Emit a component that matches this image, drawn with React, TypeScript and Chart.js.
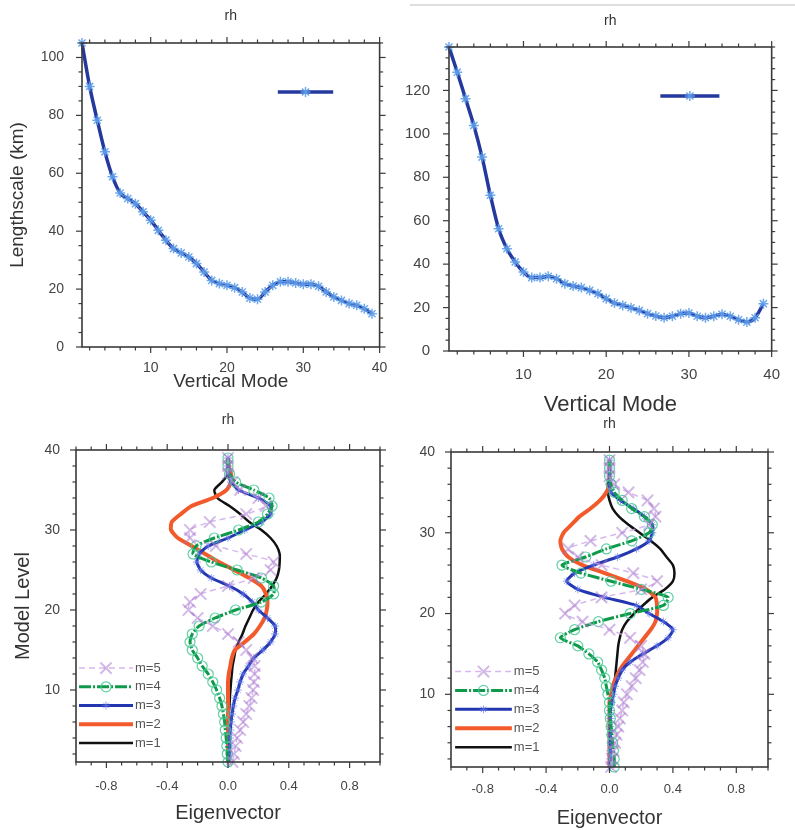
import React, { useEffect, useRef } from "react";
import { Chart, registerables } from "chart.js";

Chart.register(...registerables);

const FONT = "'Liberation Sans', Arial, Helvetica, sans-serif";

// ---------- data ----------
const MODES = [1, 2, 3, 4, 5, 6, 7, 8, 9, 10, 11, 12, 13, 14, 15, 16, 17, 18, 19, 20, 21, 22, 23, 24, 25, 26, 27, 28, 29, 30, 31, 32, 33, 34, 35, 36, 37, 38, 39];
const LENGTHSCALE_LEFT = [105, 90, 78.3, 67.4, 58.8, 53.2, 51.3, 49.5, 46.7, 43.8, 40.3, 36.9, 34, 32.5, 31.1, 28.8, 25.9, 23, 21.9, 21.3, 20.5, 19, 16.9, 16.5, 19, 21.3, 22.5, 22.5, 22.1, 21.7, 21.7, 21, 19, 17.3, 16.1, 15, 14.4, 13.2, 11.5];
const LENGTHSCALE_RIGHT = [140, 128.4, 116.2, 103.9, 89.3, 71.7, 56.3, 47.1, 41, 36.4, 33.8, 33.8, 34.4, 33.3, 31, 29.9, 29.2, 27.9, 26.4, 24.1, 22.1, 21, 19.9, 18.7, 17.2, 16.1, 15.3, 16, 17.2, 17.5, 16, 15.3, 16, 16.9, 16, 14.4, 13.3, 15.3, 21.8];

const LEVELS = [1, 2, 3, 4, 5, 6, 7, 8, 9, 10, 11, 12, 13, 14, 15, 16, 17, 18, 19, 20, 21, 22, 23, 24, 25, 26, 27, 28, 29, 30, 31, 32, 33, 34, 35, 36, 37, 38, 39];

const LEFT_M1 = [0, 0, 0, 0, 0, 0, 0.005, 0.01, 0.012, 0.016, 0.02, 0.025, 0.03, 0.04, 0.05, 0.07, 0.095, 0.115, 0.14, 0.165, 0.2, 0.25, 0.29, 0.32, 0.335, 0.34, 0.34, 0.32, 0.28, 0.22, 0.14, 0.08, 0.01, -0.07, -0.09, -0.04, 0, 0, 0];
const LEFT_M2 = [0, 0, 0, 0, 0, 0, 0, 0, 0, 0, 0, 0.005, 0.015, 0.025, 0.045, 0.11, 0.17, 0.21, 0.24, 0.255, 0.26, 0.25, 0.22, 0.14, 0.04, -0.06, -0.15, -0.24, -0.33, -0.375, -0.37, -0.31, -0.24, -0.1, -0.01, 0.02, 0.02, 0.005, 0];
const LEFT_M3 = [0.005, 0.008, 0.01, 0.012, 0.015, 0.02, 0.027, 0.035, 0.047, 0.065, 0.08, 0.1, 0.135, 0.17, 0.23, 0.28, 0.31, 0.31, 0.26, 0.2, 0.16, 0.1, 0.01, -0.11, -0.18, -0.205, -0.19, -0.13, 0, 0.11, 0.22, 0.28, 0.28, 0.2, 0.07, 0.02, 0, 0, 0];
const LEFT_M4 = [0, -0.005, -0.008, -0.012, -0.018, -0.022, -0.03, -0.04, -0.055, -0.075, -0.1, -0.13, -0.17, -0.2, -0.235, -0.25, -0.235, -0.19, -0.085, 0.05, 0.22, 0.3, 0.3, 0.22, 0.06, -0.11, -0.23, -0.21, -0.09, 0.07, 0.2, 0.26, 0.29, 0.27, 0.17, 0.05, 0.01, 0, 0];
const LEFT_M5 = [0.03, 0.04, 0.05, 0.06, 0.08, 0.1, 0.12, 0.14, 0.155, 0.165, 0.17, 0.175, 0.175, 0.16, 0.12, 0.07, 0, -0.1, -0.2, -0.26, -0.25, -0.18, 0, 0.17, 0.28, 0.3, 0.12, -0.08, -0.25, -0.25, -0.12, 0.12, 0.25, 0.2, 0.08, 0.03, 0, 0, 0];

const RIGHT_M1 = [0, 0, 0, 0, 0, 0, 0, 0.005, 0.01, 0.02, 0.03, 0.035, 0.04, 0.045, 0.05, 0.055, 0.065, 0.08, 0.11, 0.155, 0.21, 0.27, 0.35, 0.4, 0.41, 0.4, 0.36, 0.32, 0.26, 0.19, 0.12, 0.06, 0.02, 0, -0.01, -0.01, 0, 0, 0];
const RIGHT_M2 = [0, 0, 0, 0, 0, 0, 0, 0, 0, 0.01, 0.02, 0.04, 0.065, 0.1, 0.14, 0.18, 0.22, 0.26, 0.29, 0.3, 0.3, 0.29, 0.23, 0.11, -0.03, -0.17, -0.26, -0.3, -0.31, -0.29, -0.24, -0.19, -0.12, -0.06, -0.02, 0, 0, 0, 0];
const RIGHT_M3 = [0.005, 0.005, 0.005, 0.005, 0.005, 0.005, 0.005, 0.005, 0.015, 0.025, 0.035, 0.055, 0.08, 0.13, 0.21, 0.3, 0.37, 0.4, 0.34, 0.25, 0.17, -0.03, -0.2, -0.27, -0.22, -0.1, 0.05, 0.17, 0.25, 0.27, 0.27, 0.22, 0.15, 0.07, 0.01, 0, 0, 0, 0];
const RIGHT_M4 = [0.03, 0.03, 0.025, 0.02, 0.015, 0.01, 0.005, 0, 0, -0.01, -0.02, -0.03, -0.05, -0.075, -0.13, -0.2, -0.31, -0.22, -0.07, 0.13, 0.34, 0.37, 0.2, 0.01, -0.18, -0.3, -0.15, -0.02, 0.14, 0.25, 0.27, 0.22, 0.14, 0.08, 0.03, 0.01, 0, 0, 0];
const RIGHT_M5 = [0.01, 0.015, 0.025, 0.035, 0.045, 0.055, 0.065, 0.08, 0.09, 0.11, 0.14, 0.165, 0.19, 0.21, 0.22, 0.2, 0.13, 0, -0.17, -0.28, -0.22, -0.05, 0.2, 0.3, 0.15, -0.05, -0.2, -0.26, -0.12, 0.08, 0.25, 0.29, 0.28, 0.24, 0.12, 0.03, 0, 0, 0];

const MODE_TICKS = [10, 20, 30, 40];
const LEFT_SCALE_TICKS = [0, 20, 40, 60, 80, 100];
const RIGHT_SCALE_TICKS = [0, 20, 40, 60, 80, 100, 120];
const EIGEN_TICKS = [-0.8, -0.4, 0, 0.4, 0.8];
const LEVEL_TICKS = [10, 20, 30, 40];
const SERIES_LABELS = ["m=1", "m=2", "m=3", "m=4", "m=5"];

// ---------- drawing helpers ----------
function drawMarker(ctx: any, style: any, x: number, y: number, r: number, color: string, lw: number) {
  if (!style || !r) return;
  ctx.save();
  ctx.setLineDash([]);
  ctx.strokeStyle = color;
  ctx.lineWidth = lw;
  ctx.beginPath();
  const d = r * Math.SQRT1_2;
  if (style === "circle") ctx.arc(x, y, r, 0, Math.PI * 2);
  if (style === "crossRot" || style === "star") {
    ctx.moveTo(x - d, y - d); ctx.lineTo(x + d, y + d);
    ctx.moveTo(x - d, y + d); ctx.lineTo(x + d, y - d);
  }
  if (style === "star" || style === "cross") {
    ctx.moveTo(x, y - r); ctx.lineTo(x, y + r);
    ctx.moveTo(x - r, y); ctx.lineTo(x + r, y);
  }
  ctx.stroke();
  ctx.restore();
}

const frameTicks = {
  id: "frameTicks",
  afterDraw(chart: any, _args: any, opts: any) {
    const { ctx, chartArea: a } = chart;
    const xs = chart.scales.x;
    const ys = chart.scales.y;
    ctx.save();
    ctx.strokeStyle = opts.color;
    ctx.lineWidth = 1.2;
    const seg = (x1: number, y1: number, x2: number, y2: number) => {
      ctx.beginPath(); ctx.moveTo(x1, y1); ctx.lineTo(x2, y2); ctx.stroke();
    };
    const xMaj = xs.ticks.map((t: any) => t.value);
    const yMaj = ys.ticks.map((t: any) => t.value);
    const near = (list: number[], v: number, step: number) => list.some((t) => Math.abs(t - v) < step * 1e-3);
    const xTick = (v: number, len: number) => {
      const p = xs.getPixelForValue(v);
      seg(p, a.bottom, p, a.bottom + len);
      seg(p, a.top, p, a.top - len);
    };
    const yTick = (v: number, len: number) => {
      const p = ys.getPixelForValue(v);
      seg(a.left, p, a.left - len, p);
      seg(a.right, p, a.right + len, p);
    };
    xMaj.forEach((v: number) => xTick(v, opts.major));
    yMaj.forEach((v: number) => yTick(v, opts.major));
    for (let k = Math.ceil(xs.min / opts.xMinor - 1e-6); k * opts.xMinor <= xs.max + 1e-6; k++) {
      const v = k * opts.xMinor;
      if (!near(xMaj, v, opts.xMinor)) xTick(v, opts.minor);
    }
    for (let k = Math.ceil(ys.min / opts.yMinor - 1e-6); k * opts.yMinor <= ys.max + 1e-6; k++) {
      const v = k * opts.yMinor;
      if (!near(yMaj, v, opts.yMinor)) yTick(v, opts.minor);
    }
    ctx.lineWidth = 1.6;
    ctx.strokeRect(a.left, a.top, a.right - a.left, a.bottom - a.top);
    ctx.restore();
  },
};

const topKey = {
  id: "topKey",
  afterDraw(chart: any, _args: any, opts: any) {
    const { ctx, chartArea: a } = chart;
    const ds: any = chart.data.datasets[0];
    const w = a.right - a.left;
    const h = a.bottom - a.top;
    const x0 = a.left + opts.x0 * w;
    const x1 = a.left + opts.x1 * w;
    const y = a.top + opts.y * h;
    ctx.save();
    ctx.strokeStyle = ds.borderColor;
    ctx.lineWidth = ds.borderWidth;
    ctx.beginPath(); ctx.moveTo(x0, y); ctx.lineTo(x1, y); ctx.stroke();
    drawMarker(ctx, ds.pointStyle, (x0 + x1) / 2, y, ds.pointRadius, ds.pointBorderColor, ds.pointBorderWidth);
    ctx.restore();
  },
};

const bottomKey = {
  id: "bottomKey",
  afterDraw(chart: any, _args: any, opts: any) {
    const { ctx, chartArea: a } = chart;
    const w = a.right - a.left;
    const h = a.bottom - a.top;
    const x0 = a.left + opts.x0 * w;
    const x1 = a.left + opts.x1 * w;
    SERIES_LABELS.forEach((label, r) => {
      const ds: any = chart.data.datasets.find((d: any) => d.label === label);
      if (!ds) return;
      const y = a.top + (opts.yBottom - r * opts.step) * h;
      ctx.save();
      ctx.strokeStyle = ds.borderColor;
      ctx.lineWidth = ds.borderWidth;
      ctx.setLineDash(ds.borderDash || []);
      ctx.beginPath(); ctx.moveTo(x0, y); ctx.lineTo(x1, y); ctx.stroke();
      ctx.restore();
      drawMarker(ctx, ds.pointStyle, (x0 + x1) / 2, y, ds.pointRadius, ds.pointBorderColor, ds.pointBorderWidth);
      ctx.save();
      ctx.fillStyle = "#555";
      ctx.font = `13px ${FONT}`;
      ctx.textAlign = "left";
      ctx.textBaseline = "middle";
      ctx.fillText(label, x1 + 2, y);
      ctx.restore();
    });
  },
};

// ---------- datasets ----------
function lengthscaleSet(values: number[]) {
  return [{
    label: "rh",
    data: MODES.map((m, i) => ({ x: m, y: values[i] })),
    showLine: true,
    borderColor: "#24389e",
    borderWidth: 3.5,
    pointStyle: "star",
    pointRadius: 5,
    pointBorderColor: "rgba(95,160,235,0.9)",
    pointBackgroundColor: "transparent",
    pointBorderWidth: 1.5,
    cubicInterpolationMode: "monotone",
    clip: false,
  }];
}

function eigenSets(m1: number[], m2: number[], m3: number[], m4: number[], m5: number[]) {
  const pts = (vals: number[]) => LEVELS.map((lv, i) => ({ x: vals[i], y: lv }));
  const common = { showLine: true, tension: 0.2, clip: false, pointBackgroundColor: "transparent" };
  return [
    { ...common, label: "m=5", data: pts(m5), borderColor: "rgba(205,165,232,0.8)", borderWidth: 1.5, borderDash: [6, 4], pointStyle: "crossRot", pointRadius: 8, pointBorderColor: "rgba(165,115,205,0.5)", pointBorderWidth: 2 },
    { ...common, label: "m=4", data: pts(m4), borderColor: "#0f9a4a", borderWidth: 3, borderDash: [12, 2, 2, 2], pointStyle: "circle", pointRadius: 5, pointBorderColor: "rgba(70,200,150,0.85)", pointBorderWidth: 1.2 },
    { ...common, label: "m=3", data: pts(m3), borderColor: "#2236b0", borderWidth: 3, pointStyle: "star", pointRadius: 4, pointBorderColor: "rgba(95,115,235,0.65)", pointBorderWidth: 1 },
    { ...common, label: "m=2", data: pts(m2), borderColor: "#f25a2c", borderWidth: 4, pointStyle: "cross", pointRadius: 0, pointBorderColor: "rgba(255,130,90,0.4)", pointBorderWidth: 1 },
    { ...common, label: "m=1", data: pts(m1), borderColor: "#111111", borderWidth: 2.5, pointRadius: 0, pointStyle: false, pointBorderColor: "#111", pointBorderWidth: 1 },
  ];
}

// ---------- options ----------
function makeOptions(g: any) {
  return {
    responsive: false,
    animation: false,
    events: [],
    layout: { padding: { left: 0, top: 0, right: g.padRight, bottom: 0 } },
    plugins: {
      legend: { display: false },
      tooltip: { enabled: false },
      title: {
        display: true, text: "rh", fullSize: false, color: "#333",
        font: { family: FONT, size: 14, weight: "normal" },
        padding: { top: g.titleTop, bottom: g.titleBottom },
      },
      frameTicks: { color: "#3a3a3a", major: 6, minor: 3.5, xMinor: g.xMinor, yMinor: g.yMinor },
      topKey: g.topKey || {},
      bottomKey: g.bottomKey || {},
    },
    scales: {
      x: {
        type: "linear", position: "bottom", min: g.xMin, max: g.xMax,
        afterBuildTicks: (s: any) => { s.ticks = g.xTicks.map((v: number) => ({ value: v })); },
        afterFit: (s: any) => { s.height = g.xHeight; },
        grid: { display: false, drawTicks: false },
        border: { display: false },
        ticks: { autoSkip: false, maxRotation: 0, padding: g.xTickPad, color: "#444", font: { family: FONT, size: g.xTickSize }, callback: g.xFmt },
        title: { display: true, text: g.xTitle, color: "#333", font: { family: FONT, size: g.xTitleSize }, padding: { top: 0, bottom: g.xTitlePad } },
      },
      y: {
        type: "linear", position: "left", min: g.yMin, max: g.yMax,
        afterBuildTicks: (s: any) => { s.ticks = g.yTicks.map((v: number) => ({ value: v })); },
        afterFit: (s: any) => { s.width = g.yWidth; },
        grid: { display: false, drawTicks: false },
        border: { display: false },
        ticks: { autoSkip: false, padding: g.yTickPad, color: "#444", font: { family: FONT, size: g.yTickSize }, callback: (v: any) => String(v) },
        title: { display: !!g.yTitle, text: g.yTitle || "", color: "#333", font: { family: FONT, size: g.yTitleSize || 19 }, padding: { top: g.yTitlePad || 0, bottom: 0 } },
      },
    },
  };
}

const intFmt = (v: any) => String(v);
const decFmt = (v: any) => Number(v).toFixed(1);

const buildTL = () => ({
  type: "scatter",
  data: { datasets: lengthscaleSet(LENGTHSCALE_LEFT) },
  options: makeOptions({
    padRight: 17, titleTop: 7.6, titleBottom: 18.6,
    xMin: 1, xMax: 40, xTicks: MODE_TICKS, xHeight: 53, xTickPad: 12.6, xTickSize: 14, xFmt: intFmt,
    xTitle: "Vertical Mode", xTitleSize: 19, xTitlePad: 6.6,
    yMin: 0, yMax: 105, yTicks: LEFT_SCALE_TICKS, yWidth: 82, yTickPad: 18, yTickSize: 14,
    yTitle: "Lengthscale (km)", yTitleSize: 19, yTitlePad: 6.6,
    xMinor: 2, yMinor: 5,
    topKey: { x0: 0.658, x1: 0.844, y: 0.161 },
  }),
  plugins: [frameTicks, topKey],
});

const buildTR = () => ({
  type: "scatter",
  data: { datasets: lengthscaleSet(LENGTHSCALE_RIGHT) },
  options: makeOptions({
    padRight: 13, titleTop: 12.6, titleBottom: 17.6,
    xMin: 1, xMax: 40, xTicks: MODE_TICKS, xHeight: 69, xTickPad: 15, xTickSize: 15, xFmt: intFmt,
    xTitle: "Vertical Mode", xTitleSize: 22, xTitlePad: 1.8,
    yMin: 0, yMax: 140, yTicks: RIGHT_SCALE_TICKS, yWidth: 49, yTickPad: 19, yTickSize: 15,
    xMinor: 2, yMinor: 5,
    topKey: { x0: 0.655, x1: 0.838, y: 0.161 },
  }),
  plugins: [frameTicks, topKey],
});

const buildBL = () => ({
  type: "scatter",
  data: { datasets: eigenSets(LEFT_M1, LEFT_M2, LEFT_M3, LEFT_M4, LEFT_M5) },
  options: makeOptions({
    padRight: 20, titleTop: 1.6, titleBottom: 21.6,
    xMin: -1, xMax: 1, xTicks: EIGEN_TICKS, xHeight: 68, xTickPad: 17, xTickSize: 13, xFmt: decFmt,
    xTitle: "Eigenvector", xTitleSize: 20, xTitlePad: 5,
    yMin: 1, yMax: 40, yTicks: LEVEL_TICKS, yWidth: 76, yTickPad: 16, yTickSize: 14,
    yTitle: "Model Level", yTitleSize: 20, yTitlePad: 11,
    xMinor: 0.1, yMinor: 2,
    bottomKey: { x0: 0.01, x1: 0.1875, yBottom: 0.939, step: 0.06 },
  }),
  plugins: [frameTicks, bottomKey],
});

const buildBR = () => ({
  type: "scatter",
  data: { datasets: eigenSets(RIGHT_M1, RIGHT_M2, RIGHT_M3, RIGHT_M4, RIGHT_M5) },
  options: makeOptions({
    padRight: 27, titleTop: 5.6, titleBottom: 19.6,
    xMin: -1, xMax: 1, xTicks: EIGEN_TICKS, xHeight: 63, xTickPad: 15, xTickSize: 13, xFmt: decFmt,
    xTitle: "Eigenvector", xTitleSize: 20, xTitlePad: 0,
    yMin: 1, yMax: 40, yTicks: LEVEL_TICKS, yWidth: 51, yTickPad: 16, yTickSize: 14,
    xMinor: 0.1, yMinor: 2,
    bottomKey: { x0: 0.013, x1: 0.192, yBottom: 0.937, step: 0.06 },
  }),
  plugins: [frameTicks, bottomKey],
});

function ChartPanel({ left, top, width, height, build }: any) {
  const ref = useRef<HTMLCanvasElement>(null);
  useEffect(() => {
    const chart = new Chart(ref.current as any, build() as any);
    return () => chart.destroy();
  }, [build]);
  return (
    <canvas
      ref={ref}
      width={width}
      height={height}
      style={{ position: "absolute", left, top, width, height, display: "block" }}
    />
  );
}

export default function App() {
  return (
    <div style={{ position: "absolute", left: 0, top: 0, width: 795, height: 830, background: "#fff", overflow: "hidden" }}>
      <div style={{ position: "absolute", left: 410, top: 4, width: 385, height: 2, background: "#dedede" }} />
      <ChartPanel left={0} top={0} width={400} height={400} build={buildTL} />
      <ChartPanel left={400} top={0} width={395} height={420} build={buildTR} />
      <ChartPanel left={0} top={410} width={400} height={420} build={buildBL} />
      <ChartPanel left={400} top={410} width={395} height={420} build={buildBR} />
    </div>
  );
}
